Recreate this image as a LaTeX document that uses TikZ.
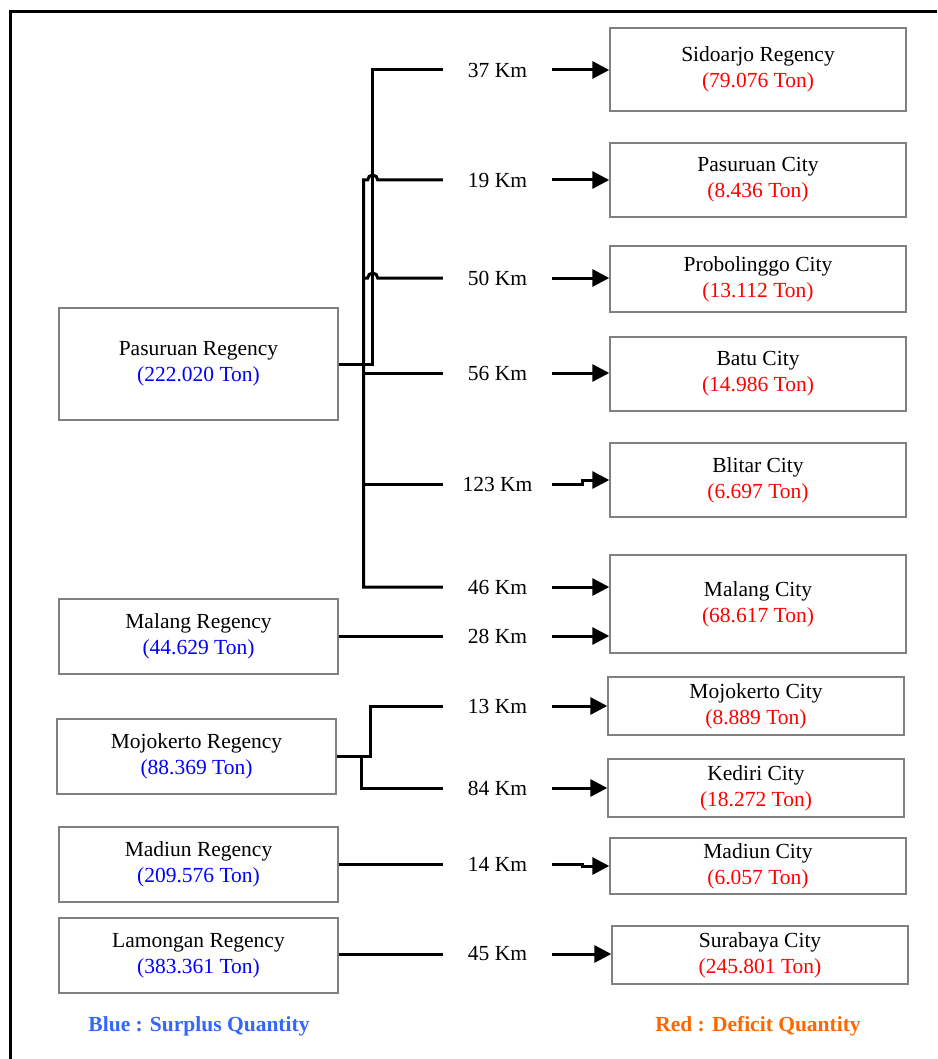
\documentclass[tikz,border=0pt]{standalone}
\usepackage{fontspec}
\setmainfont{Liberation Serif}
\usetikzlibrary{arrows.meta,calc}
\definecolor{cSur}{HTML}{0000FF}
\definecolor{cDef}{HTML}{FF0000}
\definecolor{cLegS}{HTML}{3366FF}
\definecolor{cLegD}{HTML}{FF6600}
\definecolor{cEdge}{HTML}{808080}
\newcommand{\surplusqty}[1]{\textcolor{cSur}{(#1 Ton)}}
\newcommand{\deficitqty}[1]{\textcolor{cDef}{(#1 Ton)}}
\tikzset{
  font=\fontsize{21.5}{26}\selectfont,
  box/.style={draw=cEdge,line width=1.4pt,align=center,inner sep=0pt},
  src/.style={box,minimum width=279pt,minimum height=75pt},
  dst/.style={box,minimum width=296pt},
  dist/.style={minimum width=109pt,inner sep=0pt},
  link/.style={line width=3pt},
  ship/.style={link,-{Triangle[length=17pt,width=17pt]}},
  legend/.style={font=\fontsize{21.5}{26}\selectfont\bfseries},
}

\begin{document}
\begin{tikzpicture}[x=1pt,y=-1pt]
\useasboundingbox (0,0) rectangle (937,1059);
\draw[line width=3pt] (937,12) -- (10,12) -- (10,1059);

% ============ SURPLUS REGENCIES (left) ============
\node[src,minimum height=112pt] (pasR) at (198.5,364) {Pasuruan Regency\\ \surplusqty{222.020}};
\node[src] (malR) at (198.5,636.5) {Malang Regency\\ \surplusqty{44.629}};
\node[src] (mojR) at (196.5,756.5) {Mojokerto Regency\\ \surplusqty{88.369}};
\node[src] (madR) at (198.5,864.5) {Madiun Regency\\ \surplusqty{209.576}};
\node[src] (lamR) at (198.5,955.5) {Lamongan Regency\\ \surplusqty{383.361}};

% ============ DEFICIT CITIES (right) ============
\node[dst,minimum height=83pt] (sidC) at (758,69.5) {Sidoarjo Regency\\ \deficitqty{79.076}};
\node[dst,minimum height=74pt] (pasC) at (758,180) {Pasuruan City\\ \deficitqty{8.436}};
\node[dst,minimum height=66pt] (proC) at (758,279) {Probolinggo City\\ \deficitqty{13.112}};
\node[dst,minimum height=74pt] (batC) at (758,374) {Batu City\\ \deficitqty{14.986}};
\node[dst,minimum height=74pt] (bliC) at (758,480) {Blitar City\\ \deficitqty{6.697}};
\node[dst,minimum height=98pt] (malC) at (758,604) {Malang City\\ \deficitqty{68.617}};
\node[dst,minimum height=58pt] (mojC) at (756,706) {Mojokerto City\\ \deficitqty{8.889}};
\node[dst,minimum height=58pt] (kedC) at (756,788) {Kediri City\\ \deficitqty{18.272}};
\node[dst,minimum height=56pt] (madC) at (758,866) {Madiun City\\ \deficitqty{6.057}};
\node[dst,minimum height=58pt] (surC) at (760,955) {Surabaya City\\ \deficitqty{245.801}};

% ============ DISTANCES ============
\node[dist] (k37) at (497.5,70) {37 Km};
\node[dist] (k19) at (497.5,180) {19 Km};
\node[dist] (k50) at (497.5,278) {50 Km};
\node[dist] (k56) at (497.5,373) {56 Km};
\node[dist] (k123) at (497.5,484) {123 Km};
\node[dist] (k46) at (497.5,587) {46 Km};
\node[dist] (k28) at (497.5,636) {28 Km};
\node[dist] (k13) at (497.5,706) {13 Km};
\node[dist] (k84) at (497.5,788) {84 Km};
\node[dist] (k14) at (497.5,864) {14 Km};
\node[dist] (k45) at (497.5,954) {45 Km};

% ---------- Pasuruan Regency tree ----------
\coordinate (pasA) at ($(pasR.east)+(34,0)$);
\coordinate (pasB) at ($(pasR.east)+(25,0)$);
\draw[link] (pasR.east) -- (pasA) |- (k37.west);
\draw[link] (k46.west) -- (pasB |- k46.west) -- (pasB |- k19.west)
  -- ($(pasA |- k19.west)-(5,0)$) arc[start angle=180,end angle=360,radius=5] -- (k19.west);
\draw[link] (pasB |- k50.west) -- ($(pasA |- k50.west)-(5,0)$)
  arc[start angle=180,end angle=360,radius=5] -- (k50.west);
\draw[link] (pasB |- k56.west) -- (k56.west);
\draw[link] (pasB |- k123.west) -- (k123.west);

% ---------- other regencies ----------
\draw[link] (malR.east |- k28.west) -- (k28.west);
\coordinate (mojA) at ($(mojR.east)+(34,0)$);
\coordinate (mojB) at ($(mojR.east)+(25,0)$);
\draw[link] (mojR.east) -- (mojA) |- (k13.west);
\draw[link] (mojB) |- (k84.west);
\draw[link] (madR.east |- k14.west) -- (k14.west);
\draw[link] (lamR.east |- k45.west) -- (k45.west);

% ---------- shipments to cities ----------
\draw[ship] (k37.east) -- (k37.east -| sidC.west);
\draw[ship] (k19.east) -- (k19.east -| pasC.west);
\draw[ship] (k50.east) -- (k50.east -| proC.west);
\draw[ship] (k56.east) -- (k56.east -| batC.west);
\draw[ship] (k123.east) -- ++(30,0) |- (bliC.west);
\draw[ship] (k46.east) -- (k46.east -| malC.west);
\draw[ship] (k28.east) -- (k28.east -| malC.west);
\draw[ship] (k13.east) -- (k13.east -| mojC.west);
\draw[ship] (k84.east) -- (k84.east -| kedC.west);
\draw[ship] (k14.east) -- ++(30,0) |- (madC.west);
\draw[ship] (k45.east) -- (k45.east -| surC.west);

% ---------- legend ----------
\node[legend,text=cLegS] (legS) at (199,1026) {Blue : Surplus Quantity};
\node[legend,text=cLegD] (legD) at (758,1026) {Red : Deficit Quantity};

\end{tikzpicture}
\end{document}
